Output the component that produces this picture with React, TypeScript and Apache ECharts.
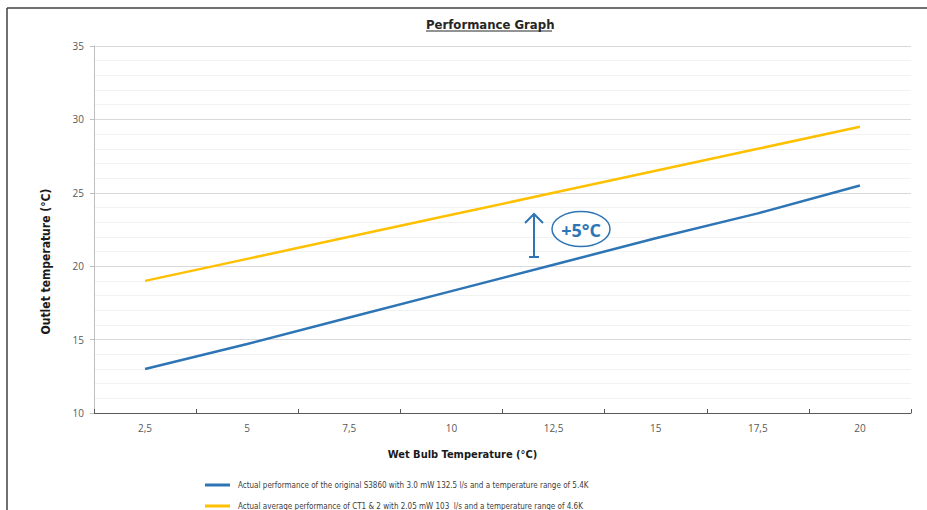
import React, { useEffect, useRef } from "react";
import * as echarts from "echarts";

const categories = ["2,5", "5", "7,5", "10", "12,5", "15", "17,5", "20"];
const originalS3860 = [13.0, 14.7, 16.5, 18.3, 20.1, 21.9, 23.6, 25.5];
const averageCT12 = [19.0, 20.5, 22.0, 23.5, 25.0, 26.5, 28.0, 29.5];
const seriesNames = [
  "Actual performance of the original S3860 with 3.0 mW 132.5 l/s and a temperature range of 5.4K",
  "Actual average performance of CT1 & 2 with 2.05 mW 103  l/s and a temperature range of 4.6K",
];
const titleText = "Performance Graph";
const yName = "Outlet temperature (°C)";
const xName = "Wet Bulb Temperature (°C)";
const annotationText = "+5°C";

const BLUE = "#2E75B6";
const GOLD = "#FFC000";
const NARROW = "'DejaVu Sans Condensed', 'Liberation Sans Narrow', sans-serif";

export default function App() {
  const ref = useRef<HTMLDivElement>(null);
  useEffect(() => {
    if (!ref.current) return;
    const chart = echarts.init(ref.current, null, { renderer: "svg" });
    const legendBase = {
      left: 205,
      itemWidth: 25,
      itemHeight: 3,
      itemGap: 8,
      icon: "rect",
      padding: 0,
      textStyle: { fontFamily: NARROW, fontSize: 8, color: "#404040", padding: [0, 0, 0, 3] },
    };
    chart.setOption({
      animation: false,
      backgroundColor: "#ffffff",
      title: {
        text: titleText,
        left: 421,
        top: 13,
        textStyle: { fontFamily: NARROW, fontWeight: "bold", fontSize: 13, color: "#262626" },
      },
      legend: [
        { ...legendBase, top: 481, data: [seriesNames[0]] },
        { ...legendBase, top: 502, data: [seriesNames[1]] },
      ],
      grid: { left: 94, right: 16, top: 46, bottom: 97, containLabel: false },
      xAxis: {
        type: "category",
        data: categories,
        boundaryGap: true,
        name: xName,
        nameLocation: "middle",
        nameGap: 36,
        nameTextStyle: { fontFamily: NARROW, fontWeight: "bold", fontSize: 11, color: "#1a1a1a", padding: [0, 80, 0, 0] },
        axisLine: { lineStyle: { color: "#595959", width: 1 } },
        axisTick: { show: true, inside: true, length: 4, lineStyle: { color: "#595959" } },
        axisLabel: { color: "#595959", fontSize: 10, fontFamily: "'Open Sans', sans-serif", margin: 10 },
        splitLine: { show: false },
      },
      yAxis: {
        type: "value",
        min: 10,
        max: 35,
        interval: 5,
        name: yName,
        nameLocation: "middle",
        nameGap: 42,
        nameTextStyle: { fontFamily: NARROW, fontWeight: "bold", fontSize: 12, color: "#1a1a1a", padding: [0, 64, 0, 0] },
        axisLine: { show: true, lineStyle: { color: "#bfbfbf" } },
        axisTick: { show: true, length: 4, lineStyle: { color: "#bfbfbf" } },
        axisLabel: { color: "#595959", fontSize: 10, fontFamily: "'Open Sans', sans-serif", margin: 10 },
        splitLine: { lineStyle: { color: "#d9d9d9" } },
        minorTick: { show: false, splitNumber: 5 },
        minorSplitLine: { show: true, lineStyle: { color: "#f2f2f2" } },
      },
      series: [
        {
          name: seriesNames[0],
          type: "line",
          data: originalS3860,
          symbol: "none",
          lineStyle: { color: BLUE, width: 2.5 },
          itemStyle: { color: BLUE },
        },
        {
          name: seriesNames[1],
          type: "line",
          data: averageCT12,
          symbol: "none",
          lineStyle: { color: GOLD, width: 2.5 },
          itemStyle: { color: GOLD },
        },
      ],
      graphic: [
        { type: "line", z: 100, shape: { x1: 7, y1: 8, x2: 927, y2: 8 }, style: { stroke: "#404040", lineWidth: 1.5 } },
        { type: "line", z: 100, shape: { x1: 7, y1: 8, x2: 7, y2: 510 }, style: { stroke: "#404040", lineWidth: 1.5 } },
        { type: "line", z: 100, shape: { x1: 426, y1: 31, x2: 552, y2: 31 }, style: { stroke: "#262626", lineWidth: 1 } },
        { type: "line", z: 100, shape: { x1: 534, y1: 257, x2: 534, y2: 214 }, style: { stroke: BLUE, lineWidth: 2 } },
        { type: "polyline", z: 100, shape: { points: [[525, 223], [534, 214], [543, 223]] }, style: { stroke: BLUE, lineWidth: 2, fill: null } },
        { type: "line", z: 100, shape: { x1: 529, y1: 257, x2: 539, y2: 257 }, style: { stroke: BLUE, lineWidth: 2 } },
        { type: "ellipse", z: 100, shape: { cx: 581, cy: 229, rx: 29, ry: 17.5 }, style: { stroke: BLUE, lineWidth: 1.5, fill: "#ffffff" } },
        {
          type: "text",
          z: 101,
          x: 581,
          y: 230,
          style: {
            text: annotationText,
            fill: BLUE,
            font: "bold 18px 'Open Sans', sans-serif",
            align: "center",
            verticalAlign: "middle",
          },
        },
      ],
    });
    return () => chart.dispose();
  }, []);
  return <div ref={ref} style={{ width: 927, height: 510, position: "absolute", left: 0, top: 0 }} />;
}
